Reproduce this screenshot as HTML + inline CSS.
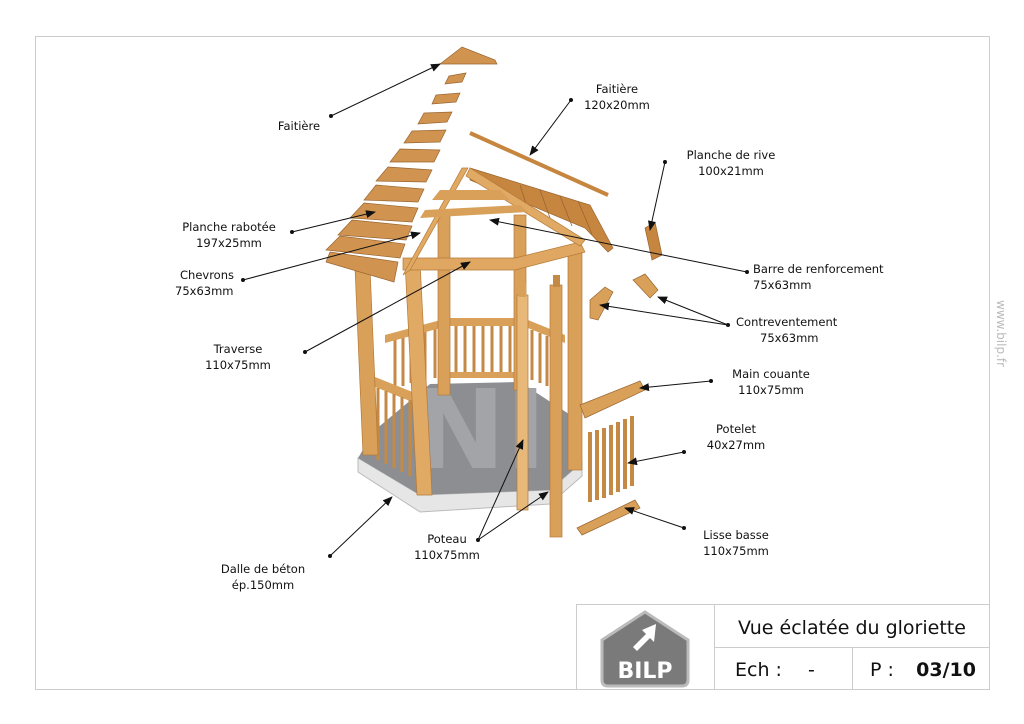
<!DOCTYPE html>
<html><head><meta charset="utf-8"><style>
body{margin:0;background:#fff;width:1024px;height:724px;overflow:hidden;font-family:"DejaVu Sans","Liberation Sans",sans-serif}
svg{position:absolute;left:0;top:0}
</style></head><body>
<svg width="1024" height="724" viewBox="0 0 1024 724" font-family="DejaVu Sans, Liberation Sans, sans-serif" font-size="11.5" fill="#111">
<defs><marker id="a" markerWidth="10" markerHeight="8" refX="9" refY="4" orient="auto" markerUnits="userSpaceOnUse"><path d="M0,0 L10,4 L0,8 Z" fill="#111"/></marker></defs>
<rect x="35.5" y="36.5" width="954" height="653" fill="none" stroke="#ccc"/>
<rect x="576.5" y="604.5" width="413" height="85" fill="#fff" stroke="#ccc"/>
<line x1="714.5" y1="604" x2="714.5" y2="690" stroke="#ccc"/>
<line x1="714" y1="647.5" x2="990" y2="647.5" stroke="#ccc"/>
<line x1="852.5" y1="648" x2="852.5" y2="690" stroke="#ccc"/>
<path d="M602,640 L645,612 L688,640 L688,680 Q688,686 682,686 L608,686 Q602,686 602,680 Z" fill="#7a7a7a" stroke="#bbb" stroke-width="3"/>
<path d="M656,624 L642,630 L646,634 L633,647 L637,651 L650,638 L654,642 Z" fill="#fff"/>
<text x="645" y="678" text-anchor="middle" font-size="22" font-weight="bold" fill="#fff">BILP</text>
<text x="852" y="634" text-anchor="middle" font-size="19">Vue éclatée du gloriette</text>
<text x="735" y="676" font-size="19">Ech :</text><text x="808" y="676" font-size="19">-</text>
<text x="870" y="676" font-size="19">P :</text><text x="976" y="676" font-size="19" font-weight="bold" text-anchor="end">03/10</text>
<text transform="translate(997,300) rotate(90)" font-size="12" fill="#bbb">www.bilp.fr</text>

<polygon points="358,458 420,495 550,490 582,462 582,476 550,504 420,512 358,472" fill="#e6e6e6" stroke="#bbb"/>
<polygon points="358,458 420,495 550,490 582,462 575,418 520,382 430,384 375,430" fill="#8c8e92"/>
<text x="480" y="468" text-anchor="middle" font-size="110" font-weight="bold" fill="#a2a4a8">NI</text>
<rect x="448" y="318" width="75" height="8" fill="#d9a05a"/>
<rect x="448" y="372" width="75" height="6" fill="#d9a05a"/>
<g stroke="#c48a45" stroke-width="3">
<line x1="456" y1="326" x2="456" y2="372"/><line x1="465" y1="326" x2="465" y2="372"/><line x1="474" y1="326" x2="474" y2="372"/><line x1="483" y1="326" x2="483" y2="372"/><line x1="492" y1="326" x2="492" y2="372"/><line x1="501" y1="326" x2="501" y2="372"/><line x1="510" y1="326" x2="510" y2="372"/>
<line x1="395" y1="340" x2="395" y2="390"/><line x1="403" y1="336" x2="403" y2="386"/><line x1="411" y1="333" x2="411" y2="383"/><line x1="425" y1="330" x2="425" y2="380"/><line x1="435" y1="328" x2="435" y2="378"/>
<line x1="532" y1="330" x2="532" y2="380"/><line x1="540" y1="333" x2="540" y2="383"/><line x1="547" y1="336" x2="547" y2="386"/>
</g>
<polygon points="385,335 448,318 448,326 385,343" fill="#d9a05a"/>
<polygon points="523,318 565,335 565,343 523,326" fill="#d9a05a"/>
<rect x="438" y="215" width="12" height="180" fill="#d9a05a" stroke="#b47a38" stroke-width=".7"/>
<rect x="514" y="215" width="12" height="175" fill="#d9a05a" stroke="#b47a38" stroke-width=".7"/>
<polygon points="370,375 420,395 420,405 370,385" fill="#d9a05a"/>
<g stroke="#c48a45" stroke-width="3">
<line x1="378" y1="388" x2="378" y2="460"/><line x1="386" y1="391" x2="386" y2="464"/><line x1="394" y1="394" x2="394" y2="468"/><line x1="402" y1="397" x2="402" y2="472"/><line x1="410" y1="400" x2="410" y2="476"/>
</g>
<polygon points="355,268 370,268 378,455 363,455" fill="#d9a05a" stroke="#b47a38" stroke-width=".7"/>
<polygon points="405,262 420,262 432,495 417,495" fill="#e0aa65" stroke="#b47a38" stroke-width=".7"/>
<rect x="568" y="248" width="14" height="222" fill="#d9a05a" stroke="#b47a38" stroke-width=".7"/>
<rect x="517" y="295" width="11" height="215" fill="#e8b878" stroke="#b47a38" stroke-width=".7"/>
<rect x="519" y="283" width="7" height="14" fill="#d9a05a"/>
<rect x="550" y="285" width="12" height="252" fill="#d9a05a" stroke="#b47a38" stroke-width=".7"/>
<rect x="553" y="275" width="7" height="12" fill="#c48a45"/>
<polygon points="403,258 515,258 580,242 585,252 515,270 403,270" fill="#dfa762" stroke="#b47a38" stroke-width=".7"/>
<polygon points="470,168 590,205 613,248 608,252 585,228 470,180" fill="#c68640" stroke="#9a6530" stroke-width=".7"/>
<g stroke="#9a6530" stroke-width=".8"><line x1="520" y1="185" x2="528" y2="210"/><line x1="540" y1="190" x2="550" y2="218"/><line x1="560" y1="196" x2="572" y2="226"/><line x1="578" y1="201" x2="592" y2="234"/></g>
<polygon points="470,168 585,240 580,246 466,176" fill="#e0aa65" stroke="#b47a38" stroke-width=".7"/>
<polygon points="468,168 410,270 403,275 462,168" fill="#e0aa65" stroke="#b47a38" stroke-width=".7"/>
<polygon points="440,190 500,190 510,200 432,200" fill="#d9a05a"/>
<polygon points="425,210 520,205 528,212 420,218" fill="#d9a05a"/>
<g fill="#d09450" stroke="#9a6530" stroke-width=".7">
<polygon points="462,47 440,64 497,64 495,60"/>
<polygon points="449,76 466,73 462,82 445,84"/>
<polygon points="436,95 460,93 456,102 432,104"/>
<polygon points="424,113 452,112 447,122 418,124"/>
<polygon points="412,131 446,130 440,142 404,143"/>
<polygon points="400,149 440,150 434,162 390,162"/>
<polygon points="388,167 432,170 426,182 376,181"/>
<polygon points="376,185 424,189 418,202 364,200"/>
<polygon points="364,203 418,208 412,222 350,218"/>
<polygon points="352,220 412,226 406,240 338,235"/>
<polygon points="340,236 405,244 400,258 326,250"/>
<polygon points="330,252 398,262 394,282 326,262"/>
</g>
<line x1="470" y1="133" x2="608" y2="195" stroke="#c68640" stroke-width="4"/>
<polygon points="645,228 655,222 662,255 652,260" fill="#c68640" stroke="#9a6530" stroke-width=".7"/>
<polygon points="633,280 645,274 658,290 650,298" fill="#d9a05a" stroke="#9a6530" stroke-width=".7"/>
<polygon points="590,300 605,287 613,292 598,320 590,318" fill="#d9a05a" stroke="#9a6530" stroke-width=".7"/>
<polygon points="580,405 640,381 645,390 585,418" fill="#d9a05a" stroke="#9a6530" stroke-width=".7"/>
<g stroke="#c48a45" stroke-width="4">
<line x1="590" y1="432" x2="590" y2="502"/><line x1="597" y1="430" x2="597" y2="500"/><line x1="604" y1="428" x2="604" y2="498"/><line x1="611" y1="425" x2="611" y2="495"/><line x1="618" y1="422" x2="618" y2="492"/><line x1="625" y1="419" x2="625" y2="489"/><line x1="632" y1="416" x2="632" y2="486"/>
</g>
<polygon points="577,528 635,500 640,508 582,535" fill="#d9a05a" stroke="#9a6530" stroke-width=".7"/>

<g stroke="#111" stroke-width="1" fill="none" marker-end="url(#a)">
<line x1="331" y1="116" x2="440" y2="64"/>
<line x1="571" y1="100" x2="530" y2="155"/>
<line x1="665" y1="162" x2="650" y2="230"/>
<line x1="292" y1="232" x2="375" y2="212"/>
<line x1="243" y1="280" x2="420" y2="233"/>
<line x1="747" y1="272" x2="490" y2="220"/>
<line x1="728" y1="325" x2="600" y2="305"/>
<line x1="728" y1="325" x2="658" y2="297"/>
<line x1="305" y1="352" x2="470" y2="262"/>
<line x1="711" y1="381" x2="640" y2="388"/>
<line x1="684" y1="452" x2="628" y2="463"/>
<line x1="684" y1="528" x2="625" y2="508"/>
<line x1="478" y1="540" x2="523" y2="440"/>
<line x1="478" y1="540" x2="548" y2="492"/>
<line x1="330" y1="556" x2="392" y2="497"/>
</g>
<g fill="#111">
<circle cx="331" cy="116" r="2"/><circle cx="571" cy="100" r="2"/><circle cx="665" cy="162" r="2"/><circle cx="292" cy="232" r="2"/><circle cx="243" cy="280" r="2"/><circle cx="747" cy="272" r="2"/><circle cx="728" cy="325" r="2"/><circle cx="305" cy="352" r="2"/><circle cx="711" cy="381" r="2"/><circle cx="684" cy="452" r="2"/><circle cx="684" cy="528" r="2"/><circle cx="478" cy="540" r="2"/><circle cx="330" cy="556" r="2"/>
</g>
<g text-anchor="middle">
<text x="299" y="130">Faitière</text>
<text x="617" y="93">Faitière</text><text x="617" y="109">120x20mm</text>
<text x="731" y="159">Planche de rive</text><text x="731" y="175">100x21mm</text>
<text x="229" y="231">Planche rabotée</text><text x="229" y="247">197x25mm</text>
<text x="238" y="353">Traverse</text><text x="238" y="369">110x75mm</text>
<text x="771" y="378">Main couante</text><text x="771" y="394">110x75mm</text>
<text x="736" y="433">Potelet</text><text x="736" y="449">40x27mm</text>
<text x="736" y="539">Lisse basse</text><text x="736" y="555">110x75mm</text>
<text x="447" y="543">Poteau</text><text x="447" y="559">110x75mm</text>
<text x="263" y="573">Dalle de béton</text><text x="263" y="589">ép.150mm</text>
</g>
<text x="180" y="279">Chevrons</text><text x="175" y="295">75x63mm</text>
<text x="753" y="273">Barre de renforcement</text><text x="753" y="289">75x63mm</text>
<text x="736" y="326">Contreventement</text><text x="760" y="342">75x63mm</text>
</svg>
</body></html>
